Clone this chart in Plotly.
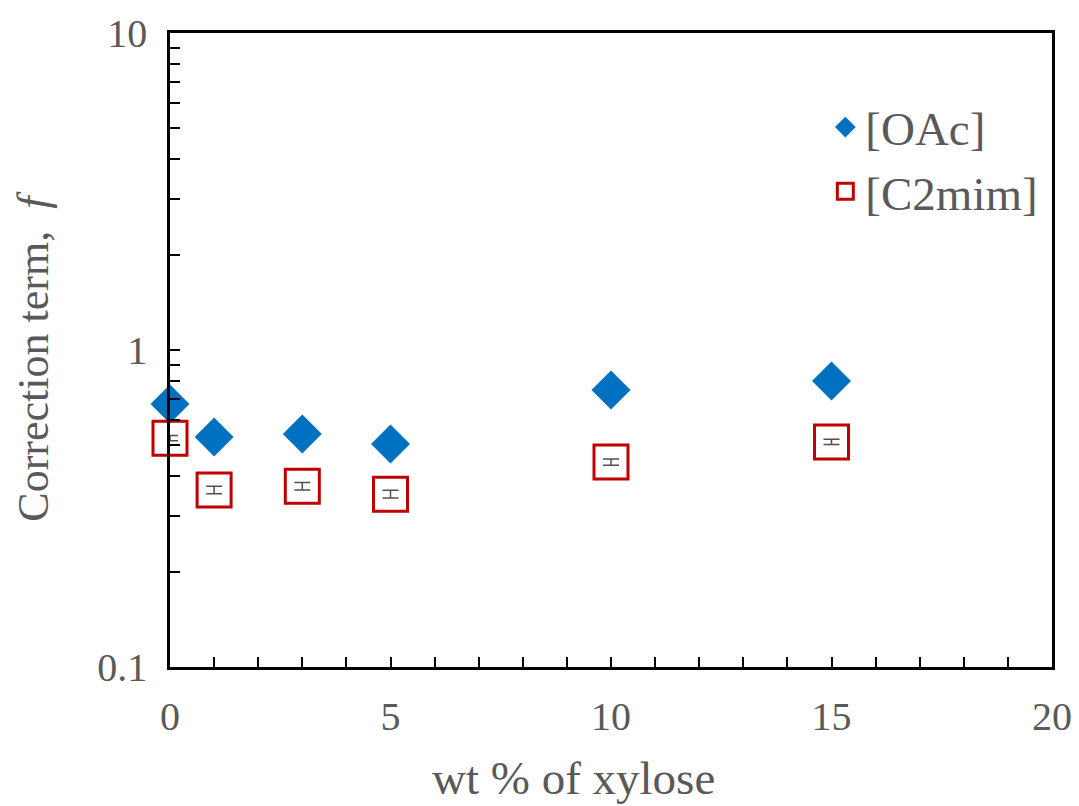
import plotly.graph_objects as go

xylose_wt = [0, 1, 3, 5, 10, 15]
f_oac = [0.676, 0.532, 0.543, 0.505, 0.748, 0.798]
f_c2mim = [0.527, 0.362, 0.372, 0.351, 0.443, 0.513]
err_c2mim = [0.010, 0.010, 0.010, 0.010, 0.010, 0.010]

y_ticks = [0.1, 1, 10]
y_ticktext = ["0.1", "1", "10"]
y_minor = [0.2, 0.3, 0.4, 0.5, 0.6, 0.7, 0.8, 0.9, 2, 3, 4, 5, 6, 7, 8, 9]

FONT = "Liberation Serif"
GRAY = "#595959"

fig = go.Figure()
fig.add_trace(go.Scatter(
    x=xylose_wt, y=f_oac, mode="markers", name="[OAc]",
    marker=dict(symbol="diamond", size=30, color="#0070C0"),
    cliponaxis=False,
))
fig.add_trace(go.Scatter(
    x=xylose_wt, y=f_c2mim, mode="markers", name="[C2mim]",
    marker=dict(symbol="square-open", size=34, color="#C00000",
                line=dict(width=3, color="#C00000")),
    error_y=dict(type="data", array=err_c2mim, color="#505050",
                 thickness=1.5, width=8),
    cliponaxis=False,
))

fig.update_layout(
    width=1079, height=806,
    margin=dict(l=170, r=27, t=33, b=139),
    paper_bgcolor="white", plot_bgcolor="white",
    font=dict(family=FONT, color=GRAY, size=40),
    showlegend=True,
    legend=dict(x=0.743, y=0.91, xanchor="left", yanchor="top",
                font=dict(family=FONT, size=47, color=GRAY),
                bgcolor="rgba(0,0,0,0)", itemsizing="trace",
                tracegroupgap=22, itemwidth=30),
    xaxis=dict(
        range=[0, 20], tickvals=[0, 5, 10, 15, 20],
        ticks="inside", ticklen=10, tickwidth=2, tickcolor="black",
        minor=dict(dtick=1, ticks="inside", ticklen=10, tickwidth=2,
                   tickcolor="black"),
        showline=True, linecolor="black", linewidth=2.5, mirror=True,
        showgrid=False, zeroline=False, automargin=False,
        tickfont=dict(family=FONT, size=40, color=GRAY),
        ticklabelstandoff=12,
    ),
    yaxis=dict(
        type="log", range=[-1, 1],
        tickvals=y_ticks, ticktext=y_ticktext,
        ticks="inside", ticklen=10, tickwidth=2, tickcolor="black",
        minor=dict(tickvals=y_minor, ticks="inside", ticklen=10,
                   tickwidth=2, tickcolor="black"),
        showline=True, linecolor="black", linewidth=2.5, mirror=True,
        showgrid=False, zeroline=False, automargin=False,
        tickfont=dict(family=FONT, size=40, color=GRAY),
        ticklabelstandoff=12,
    ),
    annotations=[
        dict(text="wt % of xylose", xref="paper", yref="paper",
             x=0.458, y=-0.175, xanchor="center", yanchor="middle",
             showarrow=False, font=dict(family=FONT, size=47, color=GRAY)),
        dict(text="Correction term,&nbsp;&nbsp;<i>f</i>", xref="paper",
             yref="paper", x=-0.155, y=0.49, xanchor="center",
             yanchor="middle", textangle=-90, showarrow=False,
             font=dict(family=FONT, size=44, color=GRAY)),
    ],
)

fig.write_html("out.html")
